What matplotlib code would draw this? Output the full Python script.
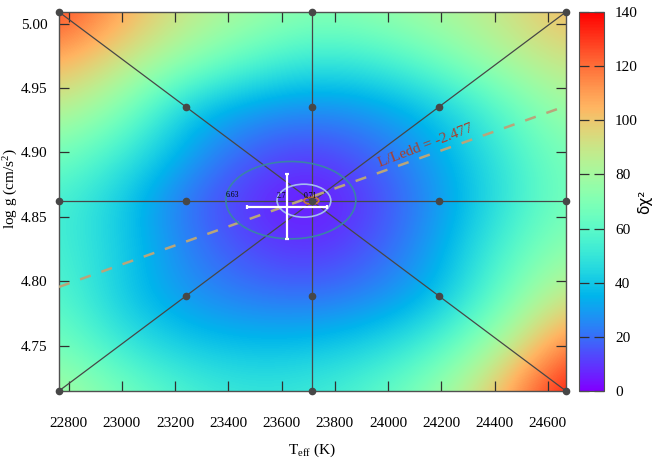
import matplotlib
matplotlib.use("Agg")
import matplotlib.pyplot as plt
import numpy as np
from matplotlib.patches import Ellipse

plt.rcParams['font.family'] = ['Liberation Serif', 'DejaVu Sans']
plt.rcParams['mathtext.fontset'] = 'custom'
plt.rcParams['mathtext.rm'] = 'Liberation Serif'
plt.rcParams['mathtext.it'] = 'Liberation Serif:italic'

# grid nodes of the fit (Teff, log g)
teff_nodes = [22764, 23240, 23716, 24192, 24668]
logg_nodes = [4.715, 4.7885, 4.862, 4.9355, 5.009]

# delta chi^2 map, rows from low log g to high log g
map_teff = [22764, 23002, 23240, 23478, 23716, 23954, 24192, 24430, 24668]
map_logg = [4.715, 4.752, 4.788, 4.825, 4.862, 4.899, 4.936, 4.972, 5.009]
dchi2 = [
    [82, 68, 56, 50, 52, 60, 76, 105, 140],
    [68, 50, 40, 37, 38, 43, 56, 82, 118],
    [60, 40, 28, 22, 20, 25, 36, 64, 92],
    [56, 42, 24, 13, 8, 16, 32, 56, 75],
    [55, 40, 20, 8, 2, 12, 28, 48, 68],
    [68, 52, 32, 16, 10, 18, 32, 50, 70],
    [88, 72, 40, 30, 26, 30, 40, 60, 80],
    [108, 92, 75, 60, 50, 53, 66, 82, 92],
    [130, 108, 90, 80, 72, 75, 82, 90, 105],
]

# confidence contours around the minimum
cont_levels = ['0.71', '2.7', '6.63']
cont_teff = [23712, 23684, 23635]
cont_logg = [4.8626, 4.8626, 4.863]
cont_dteff = [28, 101, 244]
cont_dlogg = [0.0027, 0.0128, 0.030]
cont_colors = ['#c8783a', '#a4bcf0', '#3a82a8']

# best fit with errors
best_teff, err_teff = 23620, 150
best_logg, err_logg = 4.858, 0.025

# Eddington line
edd_teff = [22764, 24640]
edd_logg = [4.7957, 4.934]
edd_text = 'L/Ledd = -2.477'

fig = plt.figure(figsize=(6.55, 4.61), dpi=100)
ax = fig.add_axes([0.090, 0.152, 0.774, 0.822])
cax = fig.add_axes([0.884, 0.152, 0.038, 0.822])

dx = (map_teff[1] - map_teff[0]) / 2
dy = (map_logg[1] - map_logg[0]) / 2
im = ax.imshow(np.array(dchi2), origin='lower', aspect='auto', cmap='rainbow',
               vmin=0, vmax=140, interpolation='bicubic',
               extent=[map_teff[0] - dx, map_teff[-1] + dx, map_logg[0] - dy, map_logg[-1] + dy])

# star pattern of the grid
gc = '#474747'
t0, t1, tc, t3, t4 = teff_nodes
g0, g1, gm, g3, g4 = logg_nodes
ax.plot([t0, t4], [g0, g4], color=gc, lw=0.9, zorder=3)
ax.plot([t0, t4], [g4, g0], color=gc, lw=0.9, zorder=3)
ax.plot([t0, t4], [gm, gm], color=gc, lw=0.9, zorder=3)
ax.plot([tc, tc], [g0, g4], color=gc, lw=0.9, zorder=3)
star_t = [t0, t1, tc, t3, t4, t0, t1, t3, t4, t0, t1, t3, t4, tc, tc, tc, tc]
star_g = [g0, g1, gm, g3, g4, g4, g3, g1, g0, gm, gm, gm, gm, g0, g1, g3, g4]
ax.plot(star_t, star_g, 'o', color=gc, ms=4.5, clip_on=False, zorder=6)

# Eddington line and label
ax.plot(edd_teff, edd_logg, color='#b9a57a', lw=1.8, dashes=(4.5, 4.5), zorder=4)
ax.text(24140, 4.9056, edd_text, color='#a8402f', fontsize=11, rotation=21,
        ha='center', va='center', zorder=5)

for lev, t, g, w, h, c in zip(cont_levels, cont_teff, cont_logg, cont_dteff, cont_dlogg, cont_colors):
    ax.add_patch(Ellipse((t, g), 2 * w, 2 * h, fill=False, ec=c, lw=1.2, zorder=5))
    ax.text(t - w, g + 0.0008, lev, fontsize=5.5, ha='left', va='bottom', zorder=7)

ax.errorbar([best_teff], [best_logg], xerr=[err_teff], yerr=[err_logg], fmt='none',
            ecolor='white', elinewidth=1.6, capsize=1.5, capthick=1.6, zorder=8)

ax.set_xlim(teff_nodes[0], teff_nodes[-1])
ax.set_ylim(logg_nodes[0], logg_nodes[-1])
ax.set_xticks(np.arange(22800, 24601, 200))
ax.set_yticks([4.75, 4.80, 4.85, 4.90, 4.95, 5.00])
ax.yaxis.set_major_formatter(matplotlib.ticker.FormatStrFormatter('%.2f'))
ax.tick_params(direction='in', top=True, right=True, length=7, width=0.9,
               color='#303030', labelsize=11)
ax.tick_params(axis='x', pad=19)
ax.tick_params(axis='y', pad=8)
for s in ax.spines.values():
    s.set_color('#505050')
    s.set_linewidth(1.0)

ax.set_xlabel(r'T$_{\rm eff}$ (K)', fontsize=11, labelpad=8)
ax.set_ylabel(r'log g (cm/s$^2$)', fontsize=11)
ax.yaxis.set_label_coords(-0.077, 0.535)

cb = fig.colorbar(im, cax=cax)
cb.set_ticks(np.arange(0, 141, 20))
cb.ax.tick_params(direction='in', left=True, right=True, length=7, width=0.9,
                  color='#303030', labelsize=11, pad=8)
cb.outline.set_edgecolor('#505050')
cb.set_label('δχ²', family='DejaVu Sans', fontsize=11)
cb.ax.yaxis.set_label_coords(2.35, 0.5)

fig.savefig('out.png', dpi=100)
